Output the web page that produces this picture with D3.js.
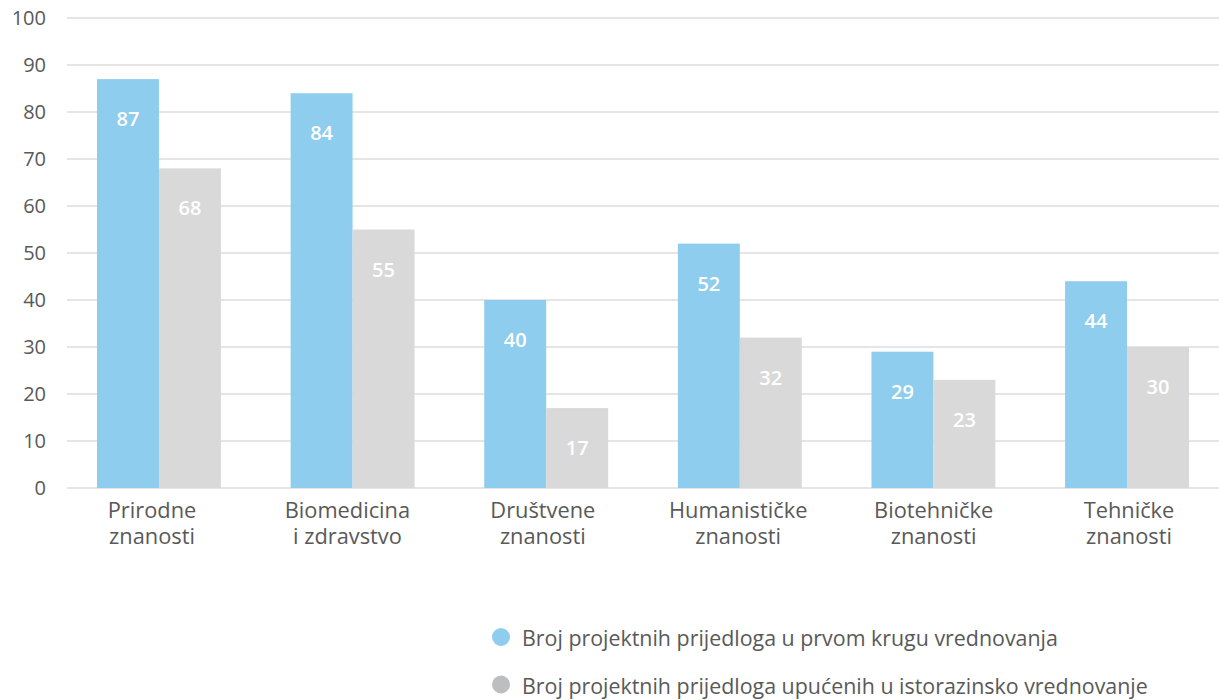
<!DOCTYPE html>
<html>
<head>
<meta charset="utf-8">
<script src="https://cdn.jsdelivr.net/npm/d3@7"></script>
<style>
  body { margin: 0; background: #fff; }
  svg { display: block; font-family: "Open Sans", sans-serif; }
</style>
</head>
<body>
<svg width="1219" height="700"></svg>
<script>
// data
const categories = ["Prirodne znanosti", "Biomedicina i zdravstvo", "Društvene znanosti",
  "Humanističke znanosti", "Biotehničke znanosti", "Tehničke znanosti"];
const categoryLines = [["Prirodne", "znanosti"], ["Biomedicina", "i zdravstvo"], ["Društvene", "znanosti"],
  ["Humanističke", "znanosti"], ["Biotehničke", "znanosti"], ["Tehničke", "znanosti"]];
const firstRound = [87, 84, 40, 52, 29, 44];
const secondStage = [68, 55, 17, 32, 23, 30];
const seriesNames = ["Broj projektnih prijedloga u prvom krugu vrednovanja",
  "Broj projektnih prijedloga upućenih u istorazinsko vrednovanje"];
const yTicks = [0, 10, 20, 30, 40, 50, 60, 70, 80, 90, 100];

const barColors = ["#8fcdef", "#d9d9d9"];
const legendColors = ["#8fcdef", "#bdbec0"];
const textColor = "#595959";

const svg = d3.select("svg");

const y = d3.scaleLinear().domain([0, 100]).range([488, 18]);

const x = d3.scaleBand()
  .domain(categories)
  .range([67, 1219])
  .paddingInner(0.36)
  .paddingOuter(0.155);

const xSub = d3.scaleBand()
  .domain([0, 1])
  .range([0, x.bandwidth()]);

// labels sit a bit off the bar centres in the original
const xLabel = d3.scalePoint().domain(categories).range([152, 1129]);

// grid
svg.append("g")
  .selectAll("line")
  .data(yTicks)
  .enter().append("line")
  .attr("x1", 67)
  .attr("x2", 1219)
  .attr("y1", d => y(d))
  .attr("y2", d => y(d))
  .attr("stroke", "#dcdcdc")
  .attr("stroke-width", 1.5);

// y tick labels
svg.append("g")
  .selectAll("text")
  .data(yTicks)
  .enter().append("text")
  .attr("x", 46)
  .attr("y", d => y(d))
  .attr("dy", "0.36em")
  .attr("text-anchor", "end")
  .attr("font-size", 20)
  .attr("fill", textColor)
  .text(d => d);

// bars
const rows = categories.map((c, i) => ({ cat: c, values: [firstRound[i], secondStage[i]] }));

const groups = svg.append("g")
  .selectAll("g")
  .data(rows)
  .enter().append("g")
  .attr("transform", d => `translate(${x(d.cat)},0)`);

groups.selectAll("rect")
  .data(d => d.values)
  .enter().append("rect")
  .attr("x", (d, i) => xSub(i))
  .attr("width", xSub.bandwidth())
  .attr("y", d => y(d))
  .attr("height", d => y(0) - y(d))
  .attr("fill", (d, i) => barColors[i]);

groups.selectAll("text")
  .data(d => d.values)
  .enter().append("text")
  .attr("x", (d, i) => xSub(i) + xSub.bandwidth() / 2)
  .attr("y", d => y(d) + 47)
  .attr("text-anchor", "middle")
  .attr("font-size", 20)
  .attr("font-weight", 600)
  .attr("fill", "#fff")
  .text(d => d);

// category labels, two lines each
const catGroups = svg.append("g")
  .selectAll("g")
  .data(categories)
  .enter().append("g")
  .attr("transform", d => `translate(${xLabel(d)},518)`);

catGroups.selectAll("text")
  .data((d, i) => categoryLines[i])
  .enter().append("text")
  .attr("y", (d, i) => i * 26)
  .attr("text-anchor", "middle")
  .attr("font-size", 21.8)
  .attr("fill", textColor)
  .text(d => d);

// legend
const legend = svg.append("g")
  .selectAll("g")
  .data(seriesNames)
  .enter().append("g")
  .attr("transform", (d, i) => `translate(501,${637 + i * 47.5})`);

legend.append("circle")
  .attr("r", 9)
  .attr("fill", (d, i) => legendColors[i]);

legend.append("text")
  .attr("x", 21)
  .attr("dy", "0.44em")
  .attr("font-size", 21.4)
  .attr("fill", textColor)
  .text(d => d);
</script>
</body>
</html>
